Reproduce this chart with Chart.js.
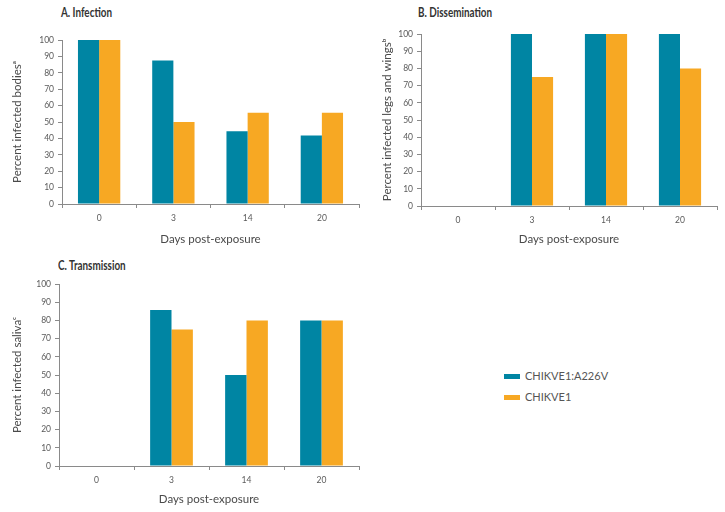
<!DOCTYPE html>
<html>
<head>
<meta charset="utf-8">
<script src="https://cdn.jsdelivr.net/npm/chart.js@4/dist/chart.umd.min.js"></script>
<style>
  html, body { margin: 0; padding: 0; background: #fff; }
  body { width: 725px; height: 512px; position: relative; overflow: hidden; font-family: Lato, "Open Sans", sans-serif; }
  .panel { position: absolute; }
  .ptitle { position: absolute; font-family: Lato, sans-serif; font-weight: bold; font-size: 13px; color: #333; line-height: 14px; white-space: nowrap; transform: scaleX(0.76); transform-origin: left center; }
  .legend { position: absolute; left: 504px; top: 368px; font-family: Lato, sans-serif; font-size: 11px; color: #555; }
  .legend div { height: 21px; line-height: 16px; white-space: nowrap; }
  .legend span.sw { display: inline-block; width: 16px; height: 5px; vertical-align: middle; margin-right: 5px; margin-top: -2px; }
</style>
</head>
<body>
<div class="ptitle" style="left:61px;top:5px;">A. Infection</div>
<div class="ptitle" style="left:418px;top:5px;">B. Dissemination</div>
<div class="ptitle" style="left:58px;top:258px;">C. Transmission</div>

<div class="panel" style="left:0px;top:0px;width:365px;height:250px;"><canvas id="cA" width="365" height="250"></canvas></div>
<div class="panel" style="left:360px;top:0px;width:365px;height:250px;"><canvas id="cB" width="365" height="250"></canvas></div>
<div class="panel" style="left:0px;top:250px;width:365px;height:262px;"><canvas id="cC" width="365" height="262"></canvas></div>

<div class="legend" id="legend"></div>

<script>
// ---- data ----
const days = ["0", "3", "14", "20"];
const seriesNames = ["CHIKVE1:A226V", "CHIKVE1"];
const infectionMutant = [100, 87.5, 44.4, 41.7];
const infectionWild = [100, 50, 55.6, 55.6];
const disseminationMutant = [0, 100, 100, 100];
const disseminationWild = [0, 75, 100, 80];
const transmissionMutant = [0, 85.7, 50, 80];
const transmissionWild = [0, 75, 80, 80];
const yTitles = ["Percent infected bodies\u1d43", "Percent infected legs and wings\u1d47", "Percent infected saliva\u1d9c"];
const xTitle = "Days post-exposure";

const colors = ["#0085a3", "#f7a823"];
const axisColor = "#8a8a8a";
const tickColor = "#5a5a5a";

function makeChart(id, mutant, wild, yTitle, cfg) {
  const ctx = document.getElementById(id);
  return new Chart(ctx, {
    type: 'bar',
    data: {
      labels: days,
      datasets: [
        { label: seriesNames[0], data: mutant, backgroundColor: colors[0], borderWidth: 0, categoryPercentage: 0.57, barPercentage: 1.0 },
        { label: seriesNames[1], data: wild, backgroundColor: colors[1], borderWidth: 0, categoryPercentage: 0.57, barPercentage: 1.0 }
      ]
    },
    options: {
      responsive: false,
      animation: false,
      layout: { padding: { top: cfg.top, right: cfg.right, bottom: 0, left: 0 } },
      plugins: { legend: { display: false }, tooltip: { enabled: false }, title: { display: false } },
      scales: {
        x: {
          grid: { offset: true, drawOnChartArea: false, drawTicks: true, tickLength: 4, color: axisColor },
          border: { color: axisColor, width: 1 },
          ticks: { color: tickColor, font: { family: "Lato", size: 8.5 }, padding: 5 },
          title: { display: true, text: xTitle, color: "#4a4a4a", font: { family: "Lato", size: 11.5 }, padding: { top: 0, bottom: cfg.xTitlePad } },
          afterFit: s => { s.height = cfg.H - cfg.bottom; }
        },
        y: {
          min: 0, max: 100,
          ticks: { stepSize: 10, color: tickColor, font: { family: "Lato", size: 8.5 }, padding: 4 },
          grid: { drawOnChartArea: false, drawTicks: true, tickLength: 4, color: axisColor },
          border: { color: axisColor, width: 1 },
          title: { display: true, text: yTitle, color: "#4a4a4a", font: { family: "Lato", size: 11.5 }, padding: { top: cfg.yTitlePad, bottom: 0 } },
          afterFit: s => { s.width = cfg.left; }
        }
      }
    }
  });
}

makeChart("cA", infectionMutant, infectionWild, yTitles[0], { H: 250, top: 40, bottom: 204, left: 62, right: 6, xTitlePad: 4, yTitlePad: 10 });
makeChart("cB", disseminationMutant, disseminationWild, yTitles[1], { H: 250, top: 34, bottom: 206, left: 61, right: 8, xTitlePad: 4, yTitlePad: 20 });
makeChart("cC", transmissionMutant, transmissionWild, yTitles[2], { H: 262, top: 34, bottom: 216, left: 59, right: 6, xTitlePad: 6, yTitlePad: 10 });

// legend built from series names and colors
const lg = document.getElementById('legend');
seriesNames.forEach((n, i) => {
  const d = document.createElement('div');
  const sw = document.createElement('span');
  sw.className = 'sw';
  sw.style.background = colors[i];
  d.appendChild(sw);
  d.appendChild(document.createTextNode(n));
  lg.appendChild(d);
});
</script>
</body>
</html>
